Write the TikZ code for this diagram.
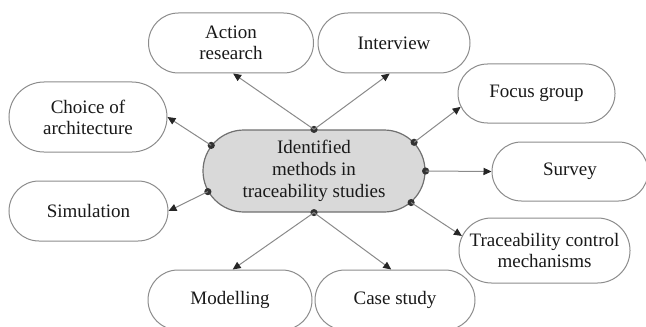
\documentclass[tikz,border=0pt]{standalone}
\usepackage{fontspec}
\setmainfont{Liberation Serif}
\usetikzlibrary{shapes.misc,arrows.meta}
\definecolor{bordergray}{HTML}{8C8C8C}
\definecolor{hubborder}{HTML}{707070}
\definecolor{hubfill}{HTML}{D9D9D9}
\definecolor{linkgray}{HTML}{8A8A8A}
\definecolor{dotgray}{HTML}{333333}
\begin{document}
\begin{tikzpicture}[x=0.5pt,y=-0.5pt,
  method/.style={rounded rectangle, draw=bordergray, line width=0.5pt, fill=white,
    inner sep=0pt, align=center, text=black!90, font=\fontsize{9.5}{10.5}\selectfont},
  hub/.style={rounded rectangle, draw=hubborder, line width=0.6pt, fill=hubfill,
    inner sep=0pt, align=center, text=black!90, font=\fontsize{9.5}{11}\selectfont},
  link/.style={draw=linkgray, line width=0.5pt, -{Triangle[length=4pt,width=3.6pt,color=black!85]}},
  dot/.style={circle, fill=dotgray, inner sep=0pt, minimum size=3.6pt}
]
\useasboundingbox (0,0) rectangle (646,326);
\clip (0,0) rectangle (646,326);

\node[hub, minimum width=111pt, minimum height=41pt] (hub) at (314,171)
  {Identified\\methods in\\traceability studies};

\node[method, minimum width=82.5pt, minimum height=30pt] (action) at (231,43) {Action\\research};
\node[method, minimum width=76pt, minimum height=30pt] (interview) at (394,43) {Interview};
\node[method, minimum width=79pt, minimum height=35pt] (choice) at (88,117) {Choice of\\architecture};
\node[method, minimum width=78.5pt, minimum height=29.5pt] (focus) at (536.5,93.5) {Focus group};
\node[method, minimum width=78pt, minimum height=29.5pt] (survey) at (570,171.5) {Survey};
\node[method, minimum width=79.5pt, minimum height=30pt] (simulation) at (88.5,211) {Simulation};
\node[method, minimum width=85.5pt, minimum height=32.5pt] (tcm) at (544.5,250.5) {Traceability control\\mechanisms};
\node[method, minimum width=82pt, minimum height=30pt] (modelling) at (230,300) {Modelling};
\node[method, minimum width=80pt, minimum height=30pt] (casestudy) at (395,300) {Case study};

\node[dot] (dtop) at (hub.90) {};
\node[dot] (dlu) at (hub.166) {};
\node[dot] (dll) at (hub.191) {};
\node[dot] (dbot) at (hub.270) {};
\node[dot] (dru) at (hub.16.5) {};
\node[dot] (drm) at (hub.0) {};
\node[dot] (drl) at (hub.-18) {};

\draw[link] (dtop.center) -- (action.274);
\draw[link] (dtop.center) -- (interview.262);
\draw[link] (dlu.center) -- (choice.0);
\draw[link] (dll.center) -- (simulation.0);
\draw[link] (dru.center) -- (focus.190);
\draw[link] (drm.center) -- (survey.180);
\draw[link] (drl.center) -- (tcm.170);
\draw[link] (dbot.center) -- (modelling.85);
\draw[link] (dbot.center) -- (casestudy.97);
\end{tikzpicture}
\end{document}
